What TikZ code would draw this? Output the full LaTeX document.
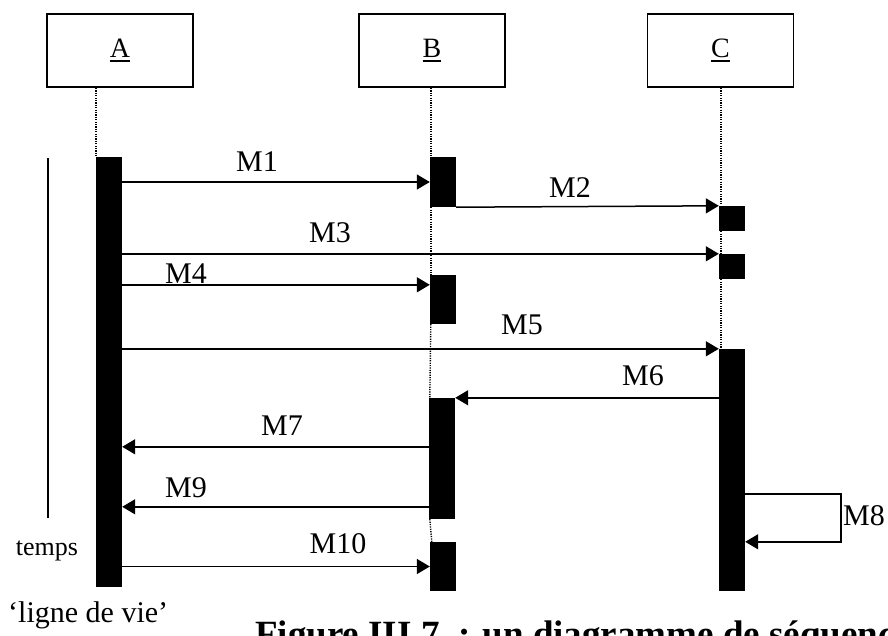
\documentclass[tikz,border=0pt]{standalone}
\usepackage{fontspec}
\setmainfont{Liberation Serif}
\usetikzlibrary{arrows.meta,calc}
\newcommand{\objname}[1]{\setbox0\hbox{#1}\rlap{\rule[-4pt]{\wd0}{1.8pt}}\box0}
\tikzset{
    lab/.style={
        font=\fontsize{30}{36}\selectfont, inner sep=0pt
    }
}

\begin{document}
\begin{tikzpicture}[x=1pt,y=-1pt, line join=miter]

\tikzset{
  obj/.style={draw=black, line width=1.8pt, minimum width=146pt, minimum height=73pt, inner sep=0pt, font=\fontsize{28}{34}\selectfont},
  act/.style={fill=black, inner sep=0pt, minimum width=26pt},
  life/.style={draw=black, line width=1.4pt, dash pattern=on 1.2pt off 1.2pt},
  msg/.style={draw=black, line width=1.5pt, -{Triangle[length=13pt,width=15pt]}},
}

\useasboundingbox (0,0) rectangle (888,635);

% objects
\node[obj] (objA) at (120,50.5) {\objname{A}};
\node[obj] (objB) at (432,50.5) {\objname{B}};
\node[obj] (objC) at (720.5,50.5) {\objname{C}};

% activations
\node[act, minimum height=430pt] (actA) at (109,372) {};
\node[act, minimum height=50pt] (actB1) at (443,182) {};
\node[act, minimum height=49pt] (actB2) at (443,299.5) {};
\node[act, minimum height=121pt] (actB3) at (442,458.5) {};
\node[act, minimum height=49pt] (actB4) at (443,566.5) {};
\node[act, minimum height=25pt] (actC1) at (732,218.5) {};
\node[act, minimum height=25pt] (actC2) at (732,266.5) {};
\node[act, minimum height=242pt] (actC3) at (732,470) {};

% lifelines
\draw[life] (actA.north west |- objA.south) -- (actA.north west);
\draw[life] ([xshift=1pt]actB1.north west |- objB.south) -- ([xshift=1pt]actB1.north west);
\draw[life] ([xshift=1pt]actB1.south west) -- ([xshift=1pt]actB2.north west);
\draw[life] ([xshift=1pt]actB2.south west) -- ([xshift=1pt]actB3.north west);
\draw[life] ([xshift=1pt]actB3.south west) -- ([xshift=2pt]actB4.north west);
\draw[life] ([xshift=2pt]actC1.north west |- objC.south) -- ([xshift=2pt]actC1.north west);
\draw[life] ([xshift=2pt]actC1.south west) -- ([xshift=2pt]actC2.north west);
\draw[life] ([xshift=2pt]actC2.south west) -- ([xshift=2pt]actC3.north west);

% time axis
\coordinate (t0) at (48,158);
\coordinate (t1) at (48,518);
\draw[line width=1.5pt] (t0) -- (t1);

% message ends off the anchors
\coordinate (m4) at ($(actB2.north west)+(0,10)$);
\coordinate (m7) at ($(actB3.north west)+(0,49)$);
\coordinate (m9) at ($(actB3.north west)+(0,109)$);
\coordinate (m8out) at ($(actC3.north east)+(0,145)$);
\coordinate (m8in) at ($(actC3.north east)+(0,193)$);

% messages
\draw[msg] (actA.east |- actB1.west) -- (actB1.west);
\draw[msg] (actB1.south east) -- (actC1.north west);
\draw[msg] (actA.east |- actC2.north west) -- (actC2.north west);
\draw[msg] (actA.east |- m4) -- (m4);
\draw[msg] (actA.east |- actC3.north west) -- (actC3.north west);
\draw[msg] (actC3.west |- actB3.north east) -- (actB3.north east);
\draw[msg] (m7) -- (actA.east |- m7);
\draw[msg] (m9) -- (actA.east |- m9);
\draw[msg] (actA.east |- actB4.west) -- (actB4.west);
\draw[msg] (m8out) -- ++(96,0) |- (m8in);

% labels
\node[lab] (lM1) at (257,162) {M1};
\node[lab] (lM2) at (570,188) {M2};
\node[lab] (lM3) at (330,233) {M3};
\node[lab] (lM4) at (186,274) {M4};
\node[lab] (lM5) at (522,325) {M5};
\node[lab] (lM6) at (643,376) {M6};
\node[lab] (lM7) at (282,426) {M7};
\node[lab, anchor=west] (lM8) at (843,516) {M8};
\node[lab] (lM9) at (186,488) {M9};
\node[lab] (lM10) at (338,544) {M10};

\node[lab, font=\fontsize{26}{30}\selectfont, anchor=base] (ltemps) at (47,555) {temps};
\node[lab, anchor=base west] (lvie) at (8,622) {‘ligne de vie’};
\node[lab, font=\fontsize{37}{44}\selectfont\bfseries, anchor=base west] (lfig) at (255,646) {Figure III.7~ : un diagramme de séquence};

\end{tikzpicture}
\end{document}
